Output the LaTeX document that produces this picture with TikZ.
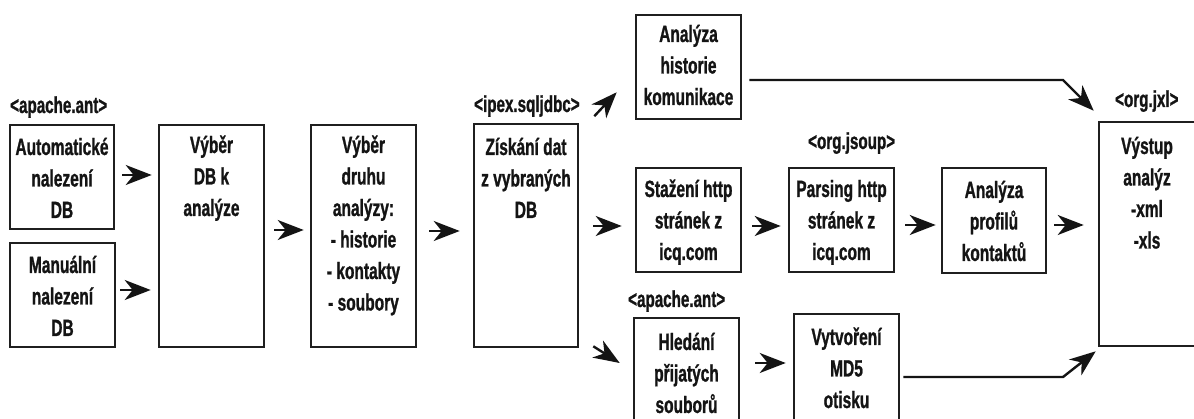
\documentclass[tikz,border=0pt]{standalone}
\usepackage{fontspec}
\usetikzlibrary{arrows.meta,calc}
\newfontfamily\narrowsans{Liberation Sans}[FakeStretch=0.66, BoldFeatures={FakeBold=1}]
\newcommand{\boxlines}[1]{\parbox[t]{130pt}{\centering #1}}

\begin{document}
\begin{tikzpicture}[x=1pt,y=-1pt,
  blk/.style 2 args={draw=black!88, line width=2.6pt, rectangle, inner sep=0pt,
    minimum width=#1, minimum height=#2},
  txt/.style={anchor=base, inner sep=0pt, text=black!92,
    font=\narrowsans\bfseries\fontsize{23.5}{31.5}\selectfont},
  tag/.style={anchor=base west, inner sep=0pt, text=black!92,
    font=\narrowsans\bfseries\fontsize{23}{26}\selectfont},
  arr/.style={draw=black!92, line width=2.4pt,
    -{Stealth[length=26pt,width=20pt,inset=8pt]}}
]
\useasboundingbox (0,0) rectangle (1194,419);
\fill[white] (0,0) rectangle (1194,419);
\clip (0,0) rectangle (1194,419);

% ---- boxes ----
\node[blk={104pt}{104pt}] (auto)  at (62,177)      {};
\node[blk={105pt}{104pt}] (man)   at (62.5,295)    {};
\node[blk={105pt}{222pt}] (dbsel) at (211.5,236)   {};
\node[blk={105pt}{222pt}] (kind)  at (363.5,236)   {};
\node[blk={104pt}{223pt}] (data)  at (526,235.5)   {};
\node[blk={105pt}{104pt}] (hist)  at (688.5,67)    {};
\node[blk={105pt}{104pt}] (down)  at (688.5,220)   {};
\node[blk={105pt}{104pt}] (pars)  at (841.5,220)   {};
\node[blk={104pt}{105pt}] (prof)  at (994,220.5)   {};
\node[blk={96pt}{224pt}]  (out)   at (1147,234)    {};
\node[blk={105pt}{107pt}] (find)  at (686.5,371.5) {};
\node[blk={105pt}{111pt}] (md5)   at (846.5,369.5) {};

% ---- box texts (first baseline given) ----
\node[txt] (auto-t)  at (62,155)    {\boxlines{Automatické\\nalezení\\DB}};
\node[txt] (man-t)   at (62.5,273)  {\boxlines{Manuální\\nalezení\\DB}};
\node[txt] (dbsel-t) at (211.5,153) {\boxlines{Výběr\\DB k\\analýze}};
\node[txt] (kind-t)  at (363.5,153) {\boxlines{Výběr\\druhu\\analýzy:\\- historie\\- kontakty\\- soubory}};
\node[txt] (data-t)  at (526,155)   {\boxlines{Získání dat\\z vybraných\\DB}};
\node[txt] (hist-t)  at (688.5,42)  {\boxlines{Analýza\\historie\\komunikace}};
\node[txt] (down-t)  at (688.5,197) {\boxlines{Stažení http\\stránek z\\icq.com}};
\node[txt] (pars-t)  at (841.5,197) {\boxlines{Parsing http\\stránek z\\icq.com}};
\node[txt] (prof-t)  at (994,198)   {\boxlines{Analýza\\profilů\\kontaktů}};
\node[txt] (out-t)   at (1147,154)  {\boxlines{Výstup\\analýz\\-xml\\-xls}};
\node[txt] (find-t)  at (686.5,350) {\boxlines{Hledání\\přijatých\\souborů}};
\node[txt] (md5-t)   at (846.5,345) {\boxlines{Vytvoření\\MD5\\otisku}};

% ---- library tags ----
\node[tag] (tag-ant1)  at (10,113)  {<apache.ant>};
\node[tag] (tag-sql)   at (474,112) {<ipex.sqljdbc>};
\node[tag] (tag-jsoup) at (808,149) {<org.jsoup>};
\node[tag] (tag-jxl)   at (1115,107){<org.jxl>};
\node[tag] (tag-ant2)  at (628,307) {<apache.ant>};

% ---- straight arrows ----
\draw[arr, shorten <=7pt, shorten >=6pt]
  ($(auto.east)+(0,-2)$) -- ($(dbsel.west |- auto.east)+(0,-2)$);
\draw[arr, shorten <=4pt, shorten >=7pt]
  ($(man.east)+(0,-5)$) -- ($(dbsel.west |- man.east)+(0,-5)$);
\draw[arr, shorten <=9pt, shorten >=6pt]
  ($(dbsel.east)+(0,-6)$) -- ($(kind.west)+(0,-6)$);
\draw[arr, shorten <=12pt, shorten >=13pt]
  ($(kind.east)+(0,-5)$) -- ($(data.west |- kind.east)+(0,-5)$);
\draw[arr, shorten <=14pt, shorten >=13pt]
  ($(data.east |- down.west)+(0,6)$) -- ($(down.west)+(0,6)$);
\draw[arr, shorten <=10pt, shorten >=7pt]
  ($(down.east)+(0,6)$) -- ($(pars.west)+(0,6)$);
\draw[arr, shorten <=10pt, shorten >=5pt]
  ($(pars.east)+(0,5)$) -- ($(prof.west)+(0,4.5)$);
\draw[arr, shorten <=7pt, shorten >=14pt]
  ($(prof.east)+(0,4.5)$) -- ($(out.west |- prof.east)+(0,4.5)$);
\draw[arr, shorten <=15pt, shorten >=7pt]
  ($(find.east)+(0,-8.5)$) -- ($(md5.west |- find.east)+(0,-8.5)$);

% ---- slanted arrows ----
\draw[arr] ($(data.north east)+(15,-6.5)$) -- ($(hist.south west)+(-18,-28)$);
\draw[arr] ($(data.south east)+(14,-2)$) -- ($(find.west)+(-13,-8.5)$);

% ---- long connectors into the output box ----
\coordinate (bend1) at (1063,80);
\coordinate (bend2) at (1063,377);
\draw[arr] ($(hist.east)+(7,13)$) -- (bend1) -- ($(out.north west)+(-4,-10)$);
\draw[arr] ($(md5.east)+(3,7.5)$) -- (bend2) -- ($(out.south west)+(-2,4)$);
\end{tikzpicture}
\end{document}
